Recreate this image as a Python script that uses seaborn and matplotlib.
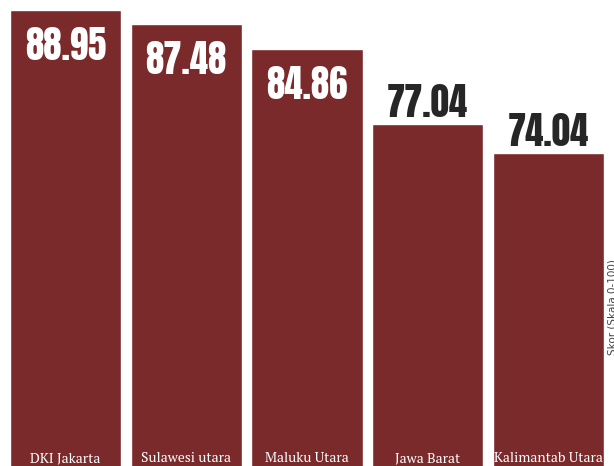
import matplotlib
matplotlib.use("Agg")
import matplotlib.pyplot as plt
import matplotlib.transforms as mtransforms
import seaborn as sns
import pandas as pd

categories = ["DKI Jakarta", "Sulawesi utara", "Maluku Utara", "Jawa Barat", "Kalimantab Utara"]
values = [88.95, 87.48, 84.86, 77.04, 74.04]
value_labels = ["88.95", "87.48", "84.86", "77.04", "74.04"]
y_label = "Skor (Skala 0-100)"

bar_color = "#7a2a2b"
dark_text = "#262626"

df = pd.DataFrame({"provinsi": categories, "skor": values})

sns.set_theme(style="white")
plt.rcParams["font.family"] = ["DejaVu Sans"]

num_family = ["Anton", "Oswald", "Bebas Neue", "Barlow Condensed", "DejaVu Sans"]
cat_family = ["PT Serif", "Liberation Serif", "DejaVu Serif"]

fig = plt.figure(figsize=(6.14, 4.66), dpi=100)
ax = fig.add_axes([5 / 614, 0, 604 / 614, 1])

sns.barplot(data=df, x="provinsi", y="skor", color=bar_color, saturation=1,
            width=0.92, ax=ax)

ax.set_xlim(-0.5, len(categories) - 0.5)
ax.set_ylim(41.13, 90.05)
for s in ax.spines.values():
    s.set_visible(False)
ax.set_xticks([])
ax.set_yticks([])
ax.set_xlabel("")
ax.set_ylabel("")

for i, (v, lab) in enumerate(zip(values, value_labels)):
    if v >= 80:
        off = mtransforms.ScaledTranslation(0, -17 / 100, fig.dpi_scale_trans)
        ax.text(i, v, lab, transform=ax.transData + off, ha="center", va="top",
                color="white", fontsize=26.5, family=num_family)
    else:
        off = mtransforms.ScaledTranslation(0, 7 / 100, fig.dpi_scale_trans)
        ax.text(i, v, lab, transform=ax.transData + off, ha="center", va="baseline",
                color=dark_text, fontsize=26.5, family=num_family)

blend = mtransforms.blended_transform_factory(ax.transData, ax.transAxes)
for i, c in enumerate(categories):
    ax.text(i, 4 / 466, c, transform=blend, ha="center", va="baseline",
            color="white", fontsize=10, family=cat_family)

fig.text(607.5 / 614, 1 - 307 / 466, y_label, rotation=90, ha="left", va="center",
         color="#444444", fontsize=7.5, family=["DejaVu Sans"])

fig.savefig("out.png", dpi=100)
